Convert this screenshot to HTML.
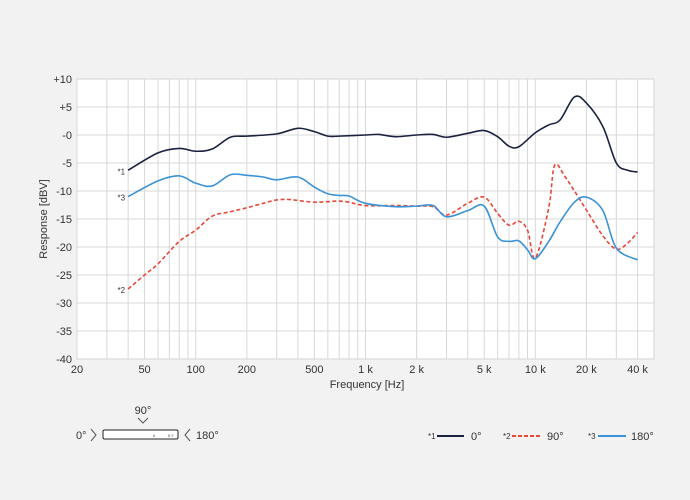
<!DOCTYPE html>
<html><head><meta charset="utf-8"><style>
body{margin:0;background:#f2f2f2;}
svg{display:block;font-family:"Liberation Sans",sans-serif;}
</style></head><body>
<svg id="chart" width="690" height="500" viewBox="0 0 690 500">
<rect width="690" height="500" fill="#f2f2f2"/>
<rect x="77" y="79" width="577" height="280" fill="#fff" stroke="#d6d6d6"/>
<g id="grid"></g>
<g id="ticks" font-size="11" fill="#333"></g>
<g id="series"></g>
<text transform="translate(47,219) rotate(-90)" text-anchor="middle" font-size="11" fill="#333">Response [dBV]</text>
<text x="367" y="388" text-anchor="middle" font-size="11" fill="#333">Frequency [Hz]</text>
<g font-size="11" fill="#333">
<text x="143" y="414" text-anchor="middle">90°</text>
<polyline points="138,418 143,423 148,418" fill="none" stroke="#555"/>
<text x="76" y="439">0°</text>
<polyline points="91,429 96,435 91,441" fill="none" stroke="#555"/>
<rect x="103" y="430" width="75" height="9" rx="1.5" fill="#fff" stroke="#222"/>
<text x="153" y="437" font-size="4">0</text><text x="168" y="437" font-size="4">0 ≡</text>
<polyline points="190,429 185,435 190,441" fill="none" stroke="#555"/>
<text x="196" y="439">180°</text>
</g>
<g font-size="11" fill="#333">
<g><text x="428" y="439" font-size="8">*1</text><line x1="437" y1="436" x2="464" y2="436" stroke="#1a2240" stroke-width="2"/><text x="471" y="440">0°</text></g>
<g><text x="503" y="439" font-size="8">*2</text><line x1="512" y1="436" x2="540" y2="436" stroke="#e8473a" stroke-width="2" stroke-dasharray="4,2"/><text x="547" y="440">90°</text></g>
<g><text x="588" y="439" font-size="8">*3</text><line x1="598" y1="436" x2="626" y2="436" stroke="#3a93d6" stroke-width="2"/><text x="631" y="440">180°</text></g>
</g>
</svg>
<script>
const yTicks=[10,5,0,-5,-10,-15,-20,-25,-30,-35,-40];
const yTickLabels=["+10","+5","-0","-5","-10","-15","-20","-25","-30","-35","-40"];
const xTicks=[20,50,100,200,500,1000,2000,5000,10000,20000,40000];
const xTickLabels=["20","50","100","200","500","1 k","2 k","5 k","10 k","20 k","40 k"];
const freqs0=[40,60,80,100,125,160,200,300,400,500,600,700,1000,1200,1500,2000,2500,3000,4000,5000,6000,7000,8000,10000,12000,14000,17000,20000,25000,30000,35000,40000];
const resp0=[-6.3,-3.2,-2.4,-2.9,-2.5,-0.4,-0.2,0.2,1.2,0.6,-0.2,-0.2,0,0.1,-0.3,0,0.1,-0.4,0.3,0.8,-0.3,-2,-2.1,0.4,1.8,2.7,6.8,5.7,1.5,-5,-6.3,-6.6];
const freqs90=[40,50,60,80,100,125,160,200,250,300,350,400,500,600,700,800,1000,1500,2000,2500,3000,4000,5000,6000,7000,8000,9000,10000,12000,13000,15000,17000,20000,25000,30000,35000,40000];
const resp90=[-27.5,-25,-23,-19,-17,-14.5,-13.7,-13,-12.2,-11.6,-11.5,-11.7,-12,-11.9,-11.8,-12,-12.6,-12.6,-12.7,-12.8,-14.3,-12.2,-11.1,-14,-16.1,-15.4,-17,-22,-13,-5.4,-7.5,-10,-13.4,-18,-20.4,-19.3,-17.4];
const freqs180=[40,60,80,100,125,160,200,250,300,400,500,600,700,800,1000,1500,2000,2500,3000,4000,5000,6000,7000,8000,9000,10000,12000,14000,17000,20000,25000,30000,40000];
const resp180=[-11,-8.2,-7.3,-8.6,-9.1,-7.1,-7.2,-7.5,-8,-7.5,-9.3,-10.5,-10.8,-10.9,-12.2,-12.8,-12.7,-12.6,-14.6,-13.5,-12.7,-18.2,-19,-18.9,-20.5,-22.1,-19,-15.5,-12,-11.1,-13.5,-20.2,-22.3];
const NS="http://www.w3.org/2000/svg";
const X0=77,X1=654,Y0=79,Y1=359,FMIN=20,FMAX=50000,DMAX=10,DMIN=-40;
function xs(f){return X0+(Math.log10(f)-Math.log10(FMIN))/(Math.log10(FMAX)-Math.log10(FMIN))*(X1-X0);}
function ys(d){return Y0+(DMAX-d)/(DMAX-DMIN)*(Y1-Y0);}
function mk(t,a,p){const e=document.createElementNS(NS,t);for(const k in a)e.setAttribute(k,a[k]);p.appendChild(e);return e;}
const grid=document.getElementById('grid');
for(let dec=10;dec<=10000;dec*=10){for(let m=1;m<=9;m++){const f=dec*m;if(f<=FMIN||f>=FMAX)continue;
const l=mk('line',{x1:xs(f),x2:xs(f),y1:Y0,y2:Y1,stroke:'#d8d8d8','stroke-width':1},grid);

}}
const tg=document.getElementById('ticks');
yTicks.forEach((v,i)=>{if(i>0&&i<yTicks.length-1){const l=mk('line',{x1:X0,x2:X1,y1:ys(v),y2:ys(v),stroke:'#d8d8d8'},grid);

}
const t=mk('text',{x:72,y:ys(v)+4,'text-anchor':'end'},tg);t.textContent=yTickLabels[i];

});
xTicks.forEach((v,i)=>{const t=mk('text',{x:xs(v),y:373,'text-anchor':'middle'},tg);t.textContent=xTickLabels[i];

});
function path(fr,rs){const p=fr.map((f,i)=>[xs(f),ys(rs[i])]);let d='M'+p[0][0]+','+p[0][1];
for(let i=0;i<p.length-1;i++){const a=p[i-1]||p[i],b=p[i],c=p[i+1],e=p[i+2]||c;
d+=' C'+(b[0]+(c[0]-a[0])/6)+','+(b[1]+(c[1]-a[1])/6)+' '+(c[0]-(e[0]-b[0])/6)+','+(c[1]-(e[1]-b[1])/6)+' '+c[0]+','+c[1];}return d;}
const sg=document.getElementById('series');
function series(fr,rs,col,dash,name,lab){const p=mk('path',{d:path(fr,rs),fill:'none',stroke:col,'stroke-width':1.6},sg);if(dash)p.setAttribute('stroke-dasharray',dash);


const t=mk('text',{x:xs(fr[0])-3,y:ys(rs[0])+4,'text-anchor':'end','font-size':8,fill:'#333'},sg);t.textContent=lab;

}
series(freqs90,resp90,'#e8473a','4,2.5','series-90deg','*2');
series(freqs180,resp180,'#3a93d6',null,'series-180deg','*3');
series(freqs0,resp0,'#1a2240',null,'series-0deg','*1');
</script>
</body></html>
